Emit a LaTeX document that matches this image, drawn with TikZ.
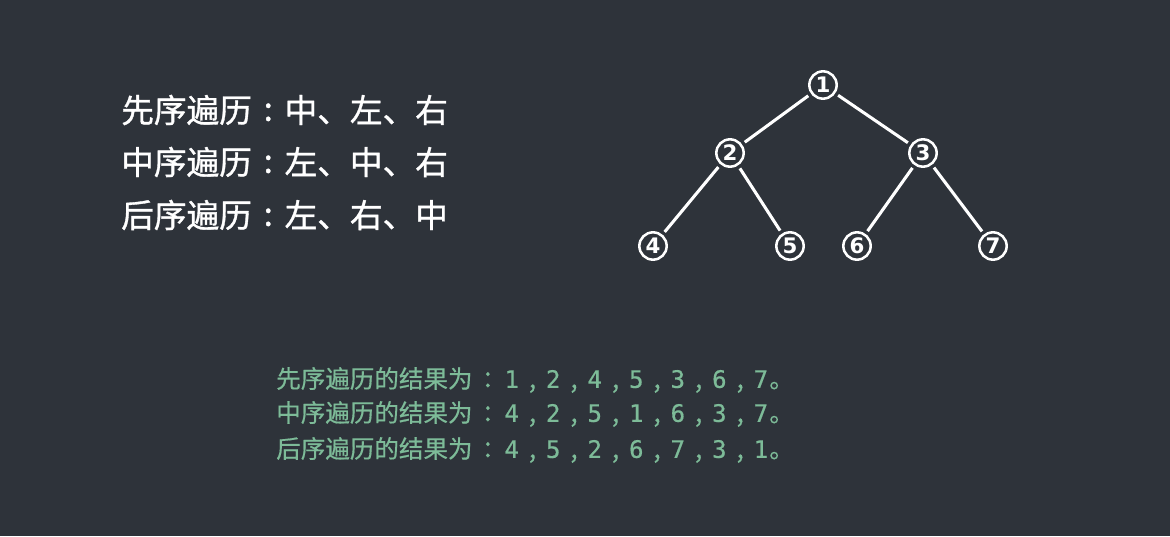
\documentclass[tikz,border=0pt]{standalone}
\usepackage{fontspec}
\setmainfont{Noto Sans CJK SC}
\newfontfamily\cjk[FakeBold=1]{Noto Sans CJK SC}
\newfontfamily\cjkr[FakeBold=0.5]{Noto Sans CJK SC}
\newfontfamily\digitfont{DejaVu Sans}
\newfontfamily\monofont[FakeBold=0.6]{DejaVu Sans Mono}
\definecolor{bg}{HTML}{2E333A}
\definecolor{grn}{HTML}{7DBB98}
\newcommand{\ccolon}{\makebox[1em][c]{\raisebox{0.05em}{:}}}
\newcommand{\rcolon}{\makebox[1.25em][c]{\fontsize{21}{21}\selectfont\raisebox{0.03em}{:}}}
\newcommand{\dg}[1]{\makebox[12.75pt][c]{\monofont\fontsize{18}{18}\selectfont #1}}
\newcommand{\cm}{\makebox[18.4pt][c]{\fontsize{20}{20}\selectfont ,}}
\begin{document}
\begin{tikzpicture}[x=0.75pt,y=-0.75pt,
  tnode/.style={circle,draw=white,line width=1.9pt,inner sep=0pt,minimum size=20.5pt,text=white,font=\digitfont\fontsize{16}{16}\selectfont\bfseries},
  edge/.style={draw=white,line width=2.3pt,shorten <=2.5pt,shorten >=2.5pt},
  rule/.style={anchor=west,text=white,inner sep=0pt,font=\cjk\fontsize{24.5}{24.5}\selectfont},
  res/.style={anchor=west,text=grn,inner sep=0pt,font=\cjkr\fontsize{18.4}{18.4}\selectfont}]
\fill[bg] (0,0) rectangle (1170,536);
\useasboundingbox (0,0) rectangle (1170,536);
\node[tnode] (n1) at (823,85) {1};
\node[tnode] (n2) at (730,153) {2};
\node[tnode] (n3) at (923,153) {3};
\node[tnode] (n4) at (653,246) {4};
\node[tnode] (n5) at (790,246) {5};
\node[tnode] (n6) at (857,246) {6};
\node[tnode] (n7) at (993,246) {7};
\draw[edge] (n1) -- (n2);
\draw[edge] (n1) -- (n3);
\draw[edge] (n2) -- (n4);
\draw[edge] (n2) -- (n5);
\draw[edge] (n3) -- (n6);
\draw[edge] (n3) -- (n7);
\node[rule] (r1) at (121,110) {先序遍历\ccolon 中、左、右};
\node[rule] (r2) at (121,162) {中序遍历\ccolon 左、中、右};
\node[rule] (r3) at (121,215) {后序遍历\ccolon 左、右、中};
\node[res] (s1) at (276,380) {先序遍历的结果为\rcolon\dg{1}\cm\dg{2}\cm\dg{4}\cm\dg{5}\cm\dg{3}\cm\dg{6}\cm\dg{7}。};
\node[res] (s2) at (276,414) {中序遍历的结果为\rcolon\dg{4}\cm\dg{2}\cm\dg{5}\cm\dg{1}\cm\dg{6}\cm\dg{3}\cm\dg{7}。};
\node[res] (s3) at (276,450) {后序遍历的结果为\rcolon\dg{4}\cm\dg{5}\cm\dg{2}\cm\dg{6}\cm\dg{7}\cm\dg{3}\cm\dg{1}。};
\end{tikzpicture}
\end{document}
